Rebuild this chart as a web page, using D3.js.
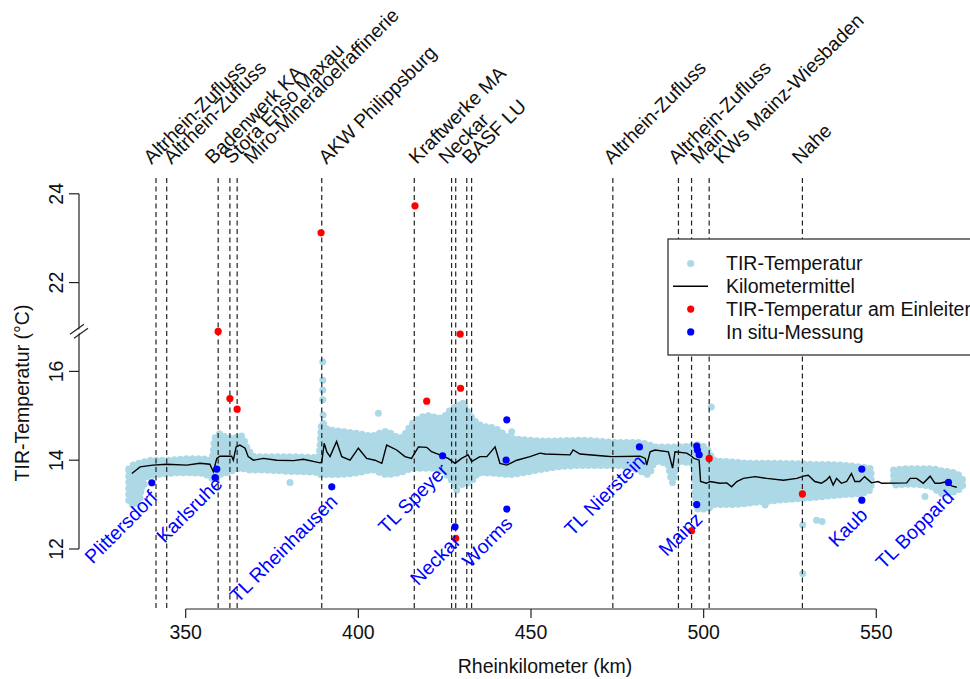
<!DOCTYPE html>
<html>
<head>
<meta charset="utf-8">
<script src="https://cdn.jsdelivr.net/npm/d3@7"></script>
<style>
    body { margin: 0; background: #fff; }
    svg { display: block; font-family: "Liberation Sans", Arial, sans-serif; }
</style>
</head>
<body>
<div id="chart"></div>
<script>
// Kilometermittel (mean TIR temperature per river km)
const meanKm = [334.4, 336.8, 340.5, 344.5, 350.3, 354.1, 357.0, 358.0, 359.0, 359.9, 363.3, 363.8, 364.6, 365.7, 367.2,
    368.1, 369.6, 372.5, 376.4, 381.2, 384.1, 388.9, 389.4, 390.1, 390.9, 391.8, 393.7, 395.2, 397.6, 400.0, 402.4,
    404.8, 406.8, 408.2, 411.1, 413.5, 415.4, 417.4, 419.8, 421.2, 423.6, 426.0, 428.0, 429.9, 431.8, 432.8, 435.2,
    437.2, 439.6, 441.0, 443.0, 445.9, 449.7, 452.6, 454.1, 461.3, 462.2, 464.2, 471.9, 473.4, 481.6, 483.1, 483.5,
    484.5, 485.9, 489.8, 491.0, 491.7, 495.1, 496.5, 497.2, 498.7, 499.1, 500.8, 501.8, 504.7, 506.7, 508.1, 509.6,
    511.5, 514.9, 518.3, 523.1, 527.0, 528.9, 530.3, 532.2, 534.1, 535.5, 536.5, 537.5, 538.5, 539.9, 541.4, 542.8,
    543.8, 545.2, 546.6, 548.6, 550.5, 551.6, 558.8, 559.8, 561.7, 563.6, 565.6, 567.0, 568.5, 570.4, 571.8, 573.3];
const meanTemp = [13.70, 13.85, 13.89, 13.91, 13.89, 13.93, 13.91, 13.74, 14.04, 14.09, 14.09, 14.00, 14.30, 14.34, 14.27,
    14.08, 14.00, 14.04, 14.00, 13.99, 14.02, 13.94, 13.96, 14.38, 14.18, 14.08, 14.42, 14.08, 14.00, 14.27, 14.04,
    14.00, 13.93, 14.34, 14.23, 14.08, 14.04, 14.30, 14.29, 14.19, 14.12, 14.04, 13.93, 14.04, 14.12, 13.97, 14.08,
    14.08, 14.30, 13.93, 13.89, 14.00, 14.08, 14.16, 14.14, 14.12, 14.23, 14.14, 14.09, 14.08, 14.09, 14.04, 13.89,
    14.19, 14.23, 14.19, 13.82, 14.19, 14.16, 14.09, 14.04, 14.00, 13.52, 13.48, 13.52, 13.48, 13.49, 13.40, 13.52,
    13.59, 13.63, 13.59, 13.55, 13.59, 13.64, 13.66, 13.52, 13.48, 13.55, 13.63, 13.44, 13.59, 13.48, 13.52, 13.70,
    13.52, 13.52, 13.63, 13.49, 13.52, 13.48, 13.49, 13.59, 13.59, 13.48, 13.64, 13.48, 13.48, 13.52, 13.42, 13.39];

// TIR-Temperatur point cloud: lower / upper envelope per km (null = no data)
const bandKm = [333.5, 335, 336.5, 337.5, 340, 345, 350, 355, 357.5, 358.5, 360, 362, 364, 366, 368, 370, 380, 388.5,
    389.5, 391, 395, 400, 404, 408, 412, 416, 420, 424, 427, 430, 433, 435, 440, 444, 450, 455, 465, 475, 481, 484,
    486, 489.5, 491, 492.5, 497, 498, 501, 503, 508, 515, 522, 530, 540, 546, 548.5, 551, 555, 560, 566, 569, 573, 575];
const bandLo = [13.05, 13.0, 13.05, 13.55, 13.65, 13.7, 13.72, 13.7, 13.6, 13.55, 13.68, 13.72, 13.78, 13.82, 13.78,
    13.78, 13.75, 13.72, 13.65, 13.68, 13.68, 13.72, 13.78, 13.68, 13.72, 13.82, 13.82, 13.8, 13.55, 13.45, 13.55,
    13.72, 13.7, 13.68, 13.75, 13.82, 13.88, 13.88, 13.78, 13.68, 13.97, 13.92, 13.5, 13.97, 13.92, 12.9, 12.9, 13.0,
    13.0, 13.05, 13.1, 13.15, 13.22, 13.26, 13.34, null, 13.44, 13.46, 13.4, 13.25, 13.3, 13.4];
const bandHi = [13.8, 13.9, 13.93, 13.95, 14.0, 14.0, 14.03, 14.03, 14.0, 14.5, 14.6, 14.5, 14.5, 14.55, 14.25,
    14.08, 14.08, 14.06, 14.85, 14.7, 14.65, 14.6, 14.55, 14.65, 14.5, 14.85, 15.0, 14.95, 15.15, 15.25, 14.95, 14.8,
    14.7, 14.5, 14.45, 14.43, 14.45, 14.4, 14.4, 14.35, 14.3, 14.3, 14.3, 14.3, 14.33, 14.35, 14.25, 14.0, 13.96,
    13.93, 13.93, 13.91, 13.89, 13.84, 13.81, null, 13.78, 13.81, 13.81, 13.76, 13.71, 13.56];
// single TIR points outside the dense band
const tirOutKm = [338.0, 337.2, 380.2, 389.7, 389.7, 389.7, 389.7, 389.8, 405.8, 430.3, 428.1, 428.5, 444.4, 502.2,
    517.8, 528.7, 528.7, 532.7, 534.3, 564.1];
const tirOutTemp = [13.46, 13.38, 13.50, 16.22, 15.80, 15.58, 15.36, 15.02, 15.06, 15.28, 13.44, 13.33, 14.64, 15.20,
    12.99, 11.45, 12.54, 12.65, 12.62, 13.18];

// Einleiter: vertical lines and their labels
const einleiterKm = [341.4, 344.5, 359.4, 362.8, 364.9, 389.4, 416.2, 427.0, 428.2, 431.4, 432.8, 473.7, 492.7, 496.5,
    501.6, 528.6];
const labelNames = ["Altrhein-Zufluss", "Altrhein-Zufluss", "Badenwerk KA", "Stora Enso Maxau",
    "Miro-Mineraloelraffinerie", "AKW Philippsburg", "Kraftwerke MA", "Neckar", "BASF LU", "Altrhein-Zufluss",
    "Altrhein-Zufluss", "Main", "KWs Mainz-Wiesbaden", "Nahe"];
const labelKm = [340.1, 345.9, 357.9, 363.3, 369.1, 390.8, 416.9, 425.5, 432.3, 473.3, 492.1, 498.4, 505.2, 527.9];

// TIR-Temperatur am Einleiter (values above 18 lie above the axis break)
const redKm = [359.4, 362.8, 364.9, 389.2, 416.4, 419.8, 429.6, 429.5, 428.2, 501.6, 496.5, 528.6];
const redTemp = [20.9, 15.39, 15.15, 23.12, 23.73, 15.33, 15.62, 20.84, 12.24, 14.04, 12.41, 13.24];

// In situ-Messung
const insituKm = [340.2, 359.0, 358.5, 392.3, 424.4, 428.0, 443.0, 442.8, 443.0, 481.4, 498.0, 498.2, 498.7, 498.0,
    545.8, 545.8, 570.9];
const insituTemp = [13.49, 13.80, 13.61, 13.40, 14.10, 12.50, 14.91, 14.00, 12.90, 14.30, 14.32, 14.23, 14.12, 13.00,
    13.80, 13.10, 13.50];
const insituName = ["Plittersdorf", "Karlsruhe", "", "TL Rheinhausen", "TL Speyer", "Neckar", "", "", "Worms",
    "TL Nierstein", "", "", "", "Mainz", "", "Kaub", "TL Boppard"];

const xTicks = [350, 400, 450, 500, 550];
const yTicks = [12, 14, 16, 22, 24];
const legendLabels = ["TIR-Temperatur", "Kilometermittel", "TIR-Temperatur am Einleiter", "In situ-Messung"];

// broken axis: everything above the break is moved down by 4 degrees
const brk = v => v > 18 ? v - 4 : v;

const width = 970, height = 679;
const plotTop = 178, plotBottom = 608, axisX = 79, axisY = 609;
const fs = "19.5px";

const svg = d3.select("#chart").append("svg")
    .attr("width", width)
    .attr("height", height);
svg.append("rect").attr("width", width).attr("height", height).attr("fill", "#fff");

const x = d3.scaleLinear().domain([350, 550]).range([185.7, 876.3]);
const y = d3.scaleLinear().domain([12, 20]).range([549, 193.8]);
const Y = v => y(brk(v));

// TIR cloud as band, edges drawn as a row of dots so it looks like a point cloud
const band = bandKm.map((k, i) => ({ k, lo: bandLo[i], hi: bandHi[i] }));
const area = d3.area()
    .defined(d => d.lo != null)
    .x(d => x(d.k))
    .y0(d => Y(d.lo))
    .y1(d => Y(d.hi))
    .curve(d3.curveMonotoneX);
svg.append("path")
    .datum(band)
    .attr("d", area)
    .attr("fill", "lightblue");
svg.append("path")
    .datum(band)
    .attr("d", area)
    .attr("fill", "none")
    .attr("stroke", "lightblue")
    .attr("stroke-width", 7)
    .attr("stroke-linecap", "round")
    .attr("stroke-dasharray", "0,6");

svg.append("g")
    .selectAll("circle")
    .data(tirOutKm)
    .enter().append("circle")
    .attr("cx", d => x(d))
    .attr("cy", (d, i) => Y(tirOutTemp[i]))
    .attr("r", 3.5)
    .attr("fill", "lightblue");

// dashed Einleiter lines
svg.append("g")
    .selectAll("line")
    .data(einleiterKm)
    .enter().append("line")
    .attr("x1", d => x(d)).attr("x2", d => x(d))
    .attr("y1", plotTop).attr("y2", plotBottom)
    .attr("stroke", "#222")
    .attr("stroke-width", 1.2)
    .attr("stroke-dasharray", "5,3.5");

// mean line
svg.append("path")
    .datum(meanKm.map((k, i) => [k, meanTemp[i]]))
    .attr("d", d3.line().x(d => x(d[0])).y(d => Y(d[1])))
    .attr("fill", "none")
    .attr("stroke", "#000")
    .attr("stroke-width", 1.4);

// red and blue points
svg.append("g")
    .selectAll("circle")
    .data(redKm)
    .enter().append("circle")
    .attr("cx", d => x(d))
    .attr("cy", (d, i) => Y(redTemp[i]))
    .attr("r", 3.6)
    .attr("fill", "red");

svg.append("g")
    .selectAll("circle")
    .data(insituKm)
    .enter().append("circle")
    .attr("cx", d => x(d))
    .attr("cy", (d, i) => Y(insituTemp[i]))
    .attr("r", 3.6)
    .attr("fill", "blue");

// in situ labels (rotated, ending just below the point)
svg.append("g")
    .selectAll("text")
    .data(insituKm.map((k, i) => ({ k, t: insituTemp[i], n: insituName[i] })).filter(d => d.n))
    .enter().append("text")
    .attr("transform", d => `translate(${x(d.k) + 2},${Y(d.t - 0.25)}) rotate(-45)`)
    .attr("text-anchor", "end")
    .attr("dy", "0.35em")
    .style("font-size", fs)
    .attr("fill", "blue")
    .text(d => d.n);

// top labels
svg.append("g")
    .selectAll("text")
    .data(labelKm)
    .enter().append("text")
    .attr("transform", d => `translate(${x(d)},${plotTop - 13}) rotate(-45)`)
    .style("font-size", fs)
    .attr("fill", "#111")
    .text((d, i) => labelNames[i]);

// x axis
const xAxis = svg.append("g");
xAxis.append("line")
    .attr("x1", x(350)).attr("x2", x(550))
    .attr("y1", axisY).attr("y2", axisY)
    .attr("stroke", "#222").attr("stroke-width", 1.2);
xAxis.selectAll(".tick")
    .data(xTicks)
    .enter().append("line")
    .attr("x1", d => x(d)).attr("x2", d => x(d))
    .attr("y1", axisY).attr("y2", axisY + 9)
    .attr("stroke", "#222").attr("stroke-width", 1.2);
xAxis.selectAll("text")
    .data(xTicks)
    .enter().append("text")
    .attr("x", d => x(d)).attr("y", 639)
    .attr("text-anchor", "middle")
    .style("font-size", fs)
    .attr("fill", "#111")
    .text(d => d);
svg.append("text")
    .attr("x", 545).attr("y", 673)
    .attr("text-anchor", "middle")
    .style("font-size", fs)
    .attr("fill", "#111")
    .text("Rheinkilometer (km)");

// y axis with break
const yAxis = svg.append("g");
yAxis.append("line")
    .attr("x1", axisX).attr("x2", axisX)
    .attr("y1", Y(12)).attr("y2", Y(24))
    .attr("stroke", "#222").attr("stroke-width", 1.2);
yAxis.selectAll(".tick")
    .data(yTicks)
    .enter().append("line")
    .attr("x1", axisX - 10).attr("x2", axisX)
    .attr("y1", d => Y(d)).attr("y2", d => Y(d))
    .attr("stroke", "#222").attr("stroke-width", 1.2);
yAxis.selectAll("text")
    .data(yTicks)
    .enter().append("text")
    .attr("transform", d => `translate(63,${Y(d)}) rotate(-90)`)
    .attr("text-anchor", "middle")
    .style("font-size", fs)
    .attr("fill", "#111")
    .text(d => d);
const by = y(16.95);
yAxis.append("polygon")
    .attr("points", `${axisX - 7},${by + 5} ${axisX + 7},${by - 5} ${axisX + 7},${by - 1} ${axisX - 7},${by + 9}`)
    .attr("fill", "#fff");
[[-9, 5, 5, -5], [-5, 9, 9, -1]].forEach(s => {
    yAxis.append("line")
        .attr("x1", axisX + s[0]).attr("y1", by + s[1])
        .attr("x2", axisX + s[2]).attr("y2", by + s[3])
        .attr("stroke", "#222").attr("stroke-width", 1.2);
});
svg.append("text")
    .attr("transform", `translate(29,${(plotTop + plotBottom) / 2}) rotate(-90)`)
    .attr("text-anchor", "middle")
    .style("font-size", fs)
    .attr("fill", "#111")
    .text("TIR-Temperatur (°C)");

// legend
const lg = svg.append("g");
lg.append("rect")
    .attr("x", 668).attr("y", 239)
    .attr("width", 340).attr("height", 116)
    .attr("fill", "#fff")
    .attr("stroke", "#222").attr("stroke-width", 1.2);
const rowY = i => 263.5 + i * 22.8;
const symColors = ["lightblue", null, "red", "blue"];
legendLabels.forEach((t, i) => {
    if (symColors[i]) {
        lg.append("circle").attr("cx", 690.7).attr("cy", rowY(i)).attr("r", 3.6).attr("fill", symColors[i]);
    } else {
        lg.append("line").attr("x1", 673).attr("x2", 708).attr("y1", rowY(i)).attr("y2", rowY(i))
            .attr("stroke", "#000").attr("stroke-width", 1.4);
    }
    lg.append("text")
        .attr("x", 726).attr("y", rowY(i))
        .attr("dy", "0.35em")
        .style("font-size", fs)
        .attr("fill", "#111")
        .text(t);
});
</script>
</body>
</html>
